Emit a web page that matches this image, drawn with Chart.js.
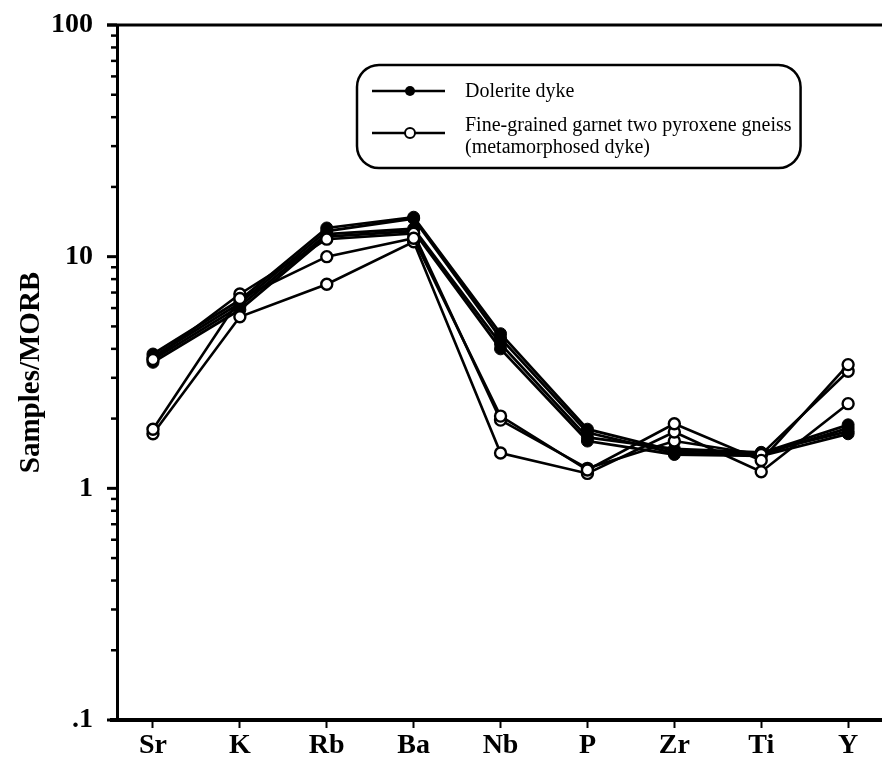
<!DOCTYPE html>
<html><head><meta charset="utf-8">
<script src="https://cdn.jsdelivr.net/npm/chart.js@4/dist/chart.umd.min.js"></script>
<style>html,body{margin:0;padding:0;background:#fff}canvas{display:block}</style>
</head><body>
<canvas id="c" width="882" height="762"></canvas>
<script>
const categories = ['Sr','K','Rb','Ba','Nb','P','Zr','Ti','Y'];
const yTickValues = [0.1, 1, 10, 100];
const yTickLabels = ['.1', '1', '10', '100'];
const legendLabels = ['Dolerite dyke', 'Fine-grained garnet two pyroxene gneiss', '(metamorphosed dyke)'];

// Dolerite dyke samples (filled symbols)
const dolerite1 = [3.8, 6.5, 13.3, 14.8, 4.65, 1.80, 1.45, 1.42, 1.88];
const dolerite2 = [3.7, 6.3, 12.9, 14.6, 4.45, 1.74, 1.42, 1.40, 1.82];
const dolerite3 = [3.6, 6.1, 12.5, 13.2, 4.20, 1.66, 1.48, 1.43, 1.76];
const dolerite4 = [3.5, 5.9, 12.2, 12.9, 4.00, 1.60, 1.40, 1.38, 1.72];
// Metamorphosed dyke samples (open symbols)
const gneiss1 = [1.80, 6.6, 10.0, 12.0, 2.05, 1.20, 1.90, 1.32, 3.42];
const gneiss2 = [1.72, 5.5, 7.6, 11.6, 1.42, 1.16, 1.75, 1.18, 2.32];
const gneiss3 = [3.6, 6.9, 11.9, 12.6, 1.97, 1.22, 1.60, 1.40, 3.20];

const toPts = arr => arr.map((v, i) => ({x: i, y: v}));
const openSet = (d) => ({data: toPts(d), borderColor:'#000', borderWidth:2.6, pointRadius:5.5, pointBorderWidth:2.4,
  pointBackgroundColor:'#fff', pointBorderColor:'#000', pointHoverRadius:5.5, tension:0});
const fillSet = (d) => ({data: toPts(d), borderColor:'#000', borderWidth:2.8, pointRadius:6, pointBorderWidth:1,
  pointBackgroundColor:'#000', pointBorderColor:'#000', pointHoverRadius:6, tension:0});

const SERIF = '"Liberation Serif", "Times New Roman", serif';

const decor = {
  id: 'decor',
  afterDraw(chart) {
    const ctx = chart.ctx, ca = chart.chartArea, y = chart.scales.y;
    ctx.save();
    ctx.strokeStyle = '#000';
    // top frame line
    ctx.lineWidth = 3;
    ctx.beginPath(); ctx.moveTo(107, ca.top); ctx.lineTo(882, ca.top); ctx.stroke();
    // bottom extension to the left
    ctx.lineWidth = 4;
    ctx.beginPath(); ctx.moveTo(110, ca.bottom); ctx.lineTo(ca.left + 2, ca.bottom); ctx.stroke();
    // y ticks (major + minor) on left
    for (let e = -1; e <= 2; e++) {
      for (let k = 1; k <= 9; k++) {
        const v = k * Math.pow(10, e);
        if (v > 100.0001) break;
        const py = y.getPixelForValue(v);
        const len = k === 1 ? 10 : 6;
        ctx.lineWidth = k === 1 ? 3 : 2.5;
        ctx.beginPath(); ctx.moveTo(ca.left - len, py); ctx.lineTo(ca.left, py); ctx.stroke();
      }
    }
    // legend box
    ctx.font = '20px ' + SERIF;
    const tw = Math.max(...legendLabels.map(t => ctx.measureText(t).width));
    const bx = 357, by = 65, bw = 465 + tw + 9 - bx, bh = 103, r = 22;
    ctx.lineWidth = 2.5;
    ctx.beginPath();
    ctx.roundRect(bx, by, bw, bh, r);
    ctx.fillStyle = '#fff'; ctx.fill(); ctx.stroke();
    // legend samples
    ctx.lineWidth = 2.5;
    ctx.beginPath(); ctx.moveTo(372, 91); ctx.lineTo(445, 91); ctx.stroke();
    ctx.beginPath(); ctx.moveTo(372, 133); ctx.lineTo(445, 133); ctx.stroke();
    ctx.fillStyle = '#000';
    ctx.beginPath(); ctx.arc(410, 91, 5, 0, Math.PI * 2); ctx.fill();
    ctx.fillStyle = '#fff'; ctx.lineWidth = 2;
    ctx.beginPath(); ctx.arc(410, 133, 5, 0, Math.PI * 2); ctx.fill(); ctx.stroke();
    // legend text
    ctx.fillStyle = '#000'; ctx.textBaseline = 'middle'; ctx.textAlign = 'left';
    ctx.fillText(legendLabels[0], 465, 92);
    ctx.fillText(legendLabels[1], 465, 126);
    ctx.fillText(legendLabels[2], 465, 148);
    ctx.restore();
  }
};

new Chart(document.getElementById('c'), {
  type: 'line',
  data: {
    datasets: [openSet(gneiss1), openSet(gneiss2), openSet(gneiss3),
               fillSet(dolerite1), fillSet(dolerite2), fillSet(dolerite3), fillSet(dolerite4)]
  },
  options: {
    responsive: false, devicePixelRatio: 1, animation: false,
    layout: {autoPadding: false, padding: {top: 25, right: 0, left: 0, bottom: 0}},
    plugins: {legend: {display: false}, tooltip: {enabled: false}},
    elements: {line: {fill: false}},
    scales: {
      x: {
        type: 'linear', min: -0.414, max: 8.39,
        afterBuildTicks: s => { s.ticks = categories.map((c, i) => ({value: i})); },
        afterFit: s => { s.height = 42; s.paddingLeft = 0; s.paddingRight = 0; },
        grid: {display: true, drawOnChartArea: false, drawTicks: true, tickLength: 8, tickColor: '#000', tickWidth: 2},
        border: {display: true, color: '#000', width: 4},
        ticks: {autoSkip: false, maxRotation: 0, padding: 1, color: '#000',
          font: {family: SERIF, size: 28, weight: 'bold'},
          callback: v => categories[v] ?? ''}
      },
      y: {
        type: 'logarithmic', min: 0.1, max: 100,
        afterBuildTicks: s => { s.ticks = yTickValues.map(v => ({value: v})); },
        afterFit: s => { s.width = 117; s.paddingTop = 0; s.paddingBottom = 0; },
        grid: {display: false},
        border: {display: true, color: '#000', width: 3},
        ticks: {autoSkip: false, padding: 16, color: '#000',
          font: {family: SERIF, size: 28, weight: 'bold'},
          callback: v => { const i = yTickValues.findIndex(t => Math.abs(t - v) < 1e-9); return i >= 0 ? yTickLabels[i] : ''; }},
        title: {display: true, text: 'Samples/MORB', color: '#000', padding: {top: 14, bottom: 0},
          font: {family: SERIF, size: 29, weight: 'bold'}}
      }
    }
  },
  plugins: [decor]
});
</script>
</body></html>
